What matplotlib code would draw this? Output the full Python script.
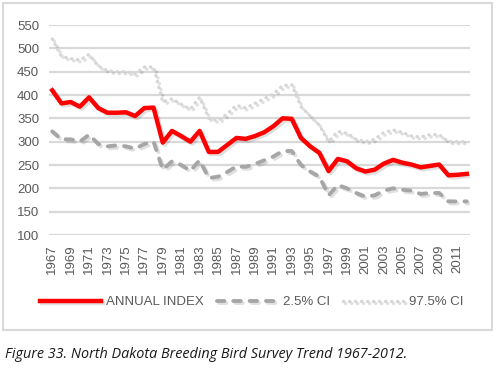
import matplotlib
matplotlib.use("Agg")
import matplotlib.pyplot as plt
import matplotlib.patheffects as pe
from matplotlib.patches import Rectangle

plt.rcParams["font.family"] = ["Liberation Sans", "DejaVu Sans"]

years = list(range(1967, 2013))
annual_index = [410, 382, 385, 375, 395, 372, 362, 362, 363, 355, 372, 373,
                298, 323, 312, 300, 323, 278, 278, 293, 308, 306, 312, 320,
                333, 350, 349, 308, 290, 276, 237, 263, 258, 243, 236, 240,
                253, 261, 255, 251, 245, 248, 251, 228, 229, 231]
ci_low = [322, 305, 305, 300, 315, 295, 290, 292, 290, 285, 295, 300,
          240, 258, 250, 238, 260, 222, 225, 235, 247, 246, 252, 260,
          268, 280, 280, 250, 236, 225, 185, 207, 200, 190, 182, 185,
          195, 200, 197, 195, 188, 190, 190, 172, 172, 172]
ci_high = [520, 483, 478, 475, 487, 462, 452, 450, 450, 445, 460, 460,
           385, 392, 380, 370, 395, 350, 345, 360, 378, 372, 382, 392,
           402, 420, 422, 375, 355, 335, 300, 322, 318, 305, 300, 305,
           320, 325, 320, 312, 310, 315, 315, 300, 300, 300]
y_ticks = [100, 150, 200, 250, 300, 350, 400, 450, 500, 550]
x_ticks = list(range(1967, 2012, 2))

W, H = 497, 369
fig = plt.figure(figsize=(W / 100, H / 100), dpi=100)

# chart frame
fig.patches.append(Rectangle((3 / W, 1 - 330 / H), 489 / W, 327 / H,
                             transform=fig.transFigure, fill=False,
                             edgecolor="#d9d9d9", linewidth=1.5))

ax = fig.add_axes([49 / W, 1 - 235 / H, (470 - 49) / W, (235 - 25) / H])
ax.set_xlim(1966.65, 2012.35)
ax.set_ylim(100, 550)
ax.set_yticks(y_ticks)
ax.set_xticks(x_ticks)
ax.set_xticklabels([str(x) for x in x_ticks], rotation=90)
for s in ax.spines.values():
    s.set_visible(False)
ax.tick_params(length=0, colors="#595959", labelsize=9.5)
ax.tick_params(axis="y", pad=7)
ax.tick_params(axis="x", pad=7)
ax.grid(axis="y", color="#d9d9d9", linewidth=1.6)
ax.set_axisbelow(True)

shadow = [pe.SimpleLineShadow(offset=(1.5, -1.5), shadow_color="#000000", alpha=0.12), pe.Normal()]

l1, = ax.plot(years, annual_index, color="#ff0000", linewidth=3.2,
              solid_joinstyle="round", label="ANNUAL INDEX", path_effects=shadow, zorder=4)
l2, = ax.plot(years, ci_low, color="#a6a6a6", linewidth=2.8, linestyle=(0, (1.9, 2.3)),
              dash_capstyle="round", label="2.5% CI", path_effects=shadow, zorder=3)
l3, = ax.plot(years, ci_high, color="#d6d6d6", linewidth=2.4, linestyle=(0, (0.1, 1.7)),
              dash_capstyle="round", label="97.5% CI", path_effects=shadow, zorder=2)

leg = fig.legend(handles=[l1, l2, l3], loc="center", bbox_to_anchor=(252 / W, 1 - 302 / H),
                 ncol=3, frameon=False, fontsize=9.5, handlelength=4.6,
                 columnspacing=1.0, handletextpad=0.4, labelcolor="#595959")

fig.text(5 / W, 1 - 354 / H, "Figure 33. North Dakota Breeding Bird Survey Trend 1967-2012.",
         fontsize=10.4, style="italic", family="Open Sans", color="#1a1a1a", va="center")

fig.savefig("out.png", dpi=100)
